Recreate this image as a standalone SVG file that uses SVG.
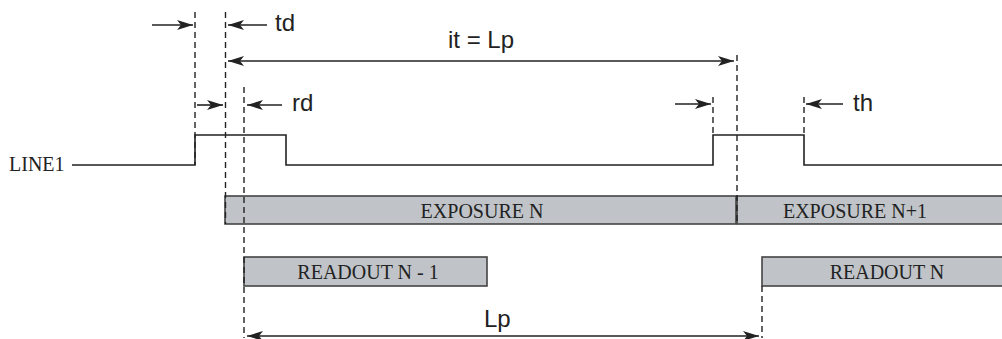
<svg xmlns="http://www.w3.org/2000/svg" width="1002" height="339" viewBox="0 0 1002 339">
<style>
.sig{fill:none;stroke:#222;stroke-width:1.6}
.dash{fill:none;stroke:#222;stroke-width:1.4;stroke-dasharray:6 4}
.arr{fill:none;stroke:#222;stroke-width:1.6}
.box{fill:#c0c4c9;stroke:#444;stroke-width:1.6}
.sans{font-family:"Liberation Sans",Arial,sans-serif;font-size:24px;fill:#222}
.serif{font-family:"Liberation Serif","Times New Roman",serif;font-size:20px;fill:#222}
</style>
<defs>
<marker id="ah" viewBox="0 0 16 10" refX="16" refY="5" markerWidth="16" markerHeight="10" markerUnits="userSpaceOnUse" orient="auto-start-reverse">
<path d="M0,0 L16,5 L0,10 L4,5 Z" fill="#222"/>
</marker>
</defs>
<rect width="1002" height="339" fill="#fff"/>

<g id="exposure-n">
<rect class="box" x="225" y="196" width="511" height="28"/>
<text class="serif" x="482" y="218" text-anchor="middle">EXPOSURE N</text>
</g>
<g id="exposure-n1">
<rect class="box" x="737" y="196" width="266" height="28"/>
<text class="serif" x="855" y="218" text-anchor="middle">EXPOSURE N+1</text>
</g>
<g id="readout-n-1">
<rect class="box" x="244" y="257" width="243" height="29"/>
<text class="serif" x="368" y="279" text-anchor="middle">READOUT N - 1</text>
</g>
<g id="readout-n">
<rect class="box" x="762" y="257" width="241" height="29"/>
<text class="serif" x="887" y="279" text-anchor="middle">READOUT N</text>
</g>

<g id="line1">
<text class="serif" x="9" y="171">LINE1</text>
<polyline class="sig" points="72,165 195,165 195,135 286,135 286,165 713,165 713,135 804,135 804,165 1002,165"/>
</g>

<g id="guides">
<line class="dash" x1="195" y1="12" x2="195" y2="165"/>
<line class="dash" x1="225.5" y1="12" x2="225.5" y2="224"/>
<line class="dash" x1="244" y1="87" x2="244" y2="338"/>
<line class="dash" x1="713" y1="97" x2="713" y2="135"/>
<line class="dash" x1="737" y1="55" x2="737" y2="224"/>
<line class="dash" x1="804" y1="97" x2="804" y2="135"/>
<line class="dash" x1="762" y1="286" x2="762" y2="338"/>
</g>

<g id="connectors">
<line class="arr" x1="152" y1="25" x2="193" y2="25" marker-end="url(#ah)"/>
<line class="arr" x1="267" y1="25" x2="228" y2="25" marker-end="url(#ah)"/>
<line class="arr" x1="228" y1="61" x2="734" y2="61" marker-start="url(#ah)" marker-end="url(#ah)"/>
<line class="arr" x1="197" y1="105" x2="223" y2="105" marker-end="url(#ah)"/>
<line class="arr" x1="282" y1="105" x2="247" y2="105" marker-end="url(#ah)"/>
<line class="arr" x1="675" y1="104" x2="711" y2="104" marker-end="url(#ah)"/>
<line class="arr" x1="843" y1="104" x2="806" y2="104" marker-end="url(#ah)"/>
<line class="arr" x1="247" y1="336" x2="759" y2="336" marker-start="url(#ah)" marker-end="url(#ah)"/>
</g>

<g id="labels">
<text class="sans" x="275" y="31">td</text>
<text class="sans" x="448" y="48">it = Lp</text>
<text class="sans" x="292" y="111">rd</text>
<text class="sans" x="853" y="111">th</text>
<text class="sans" x="484" y="327">Lp</text>
</g>
</svg>
